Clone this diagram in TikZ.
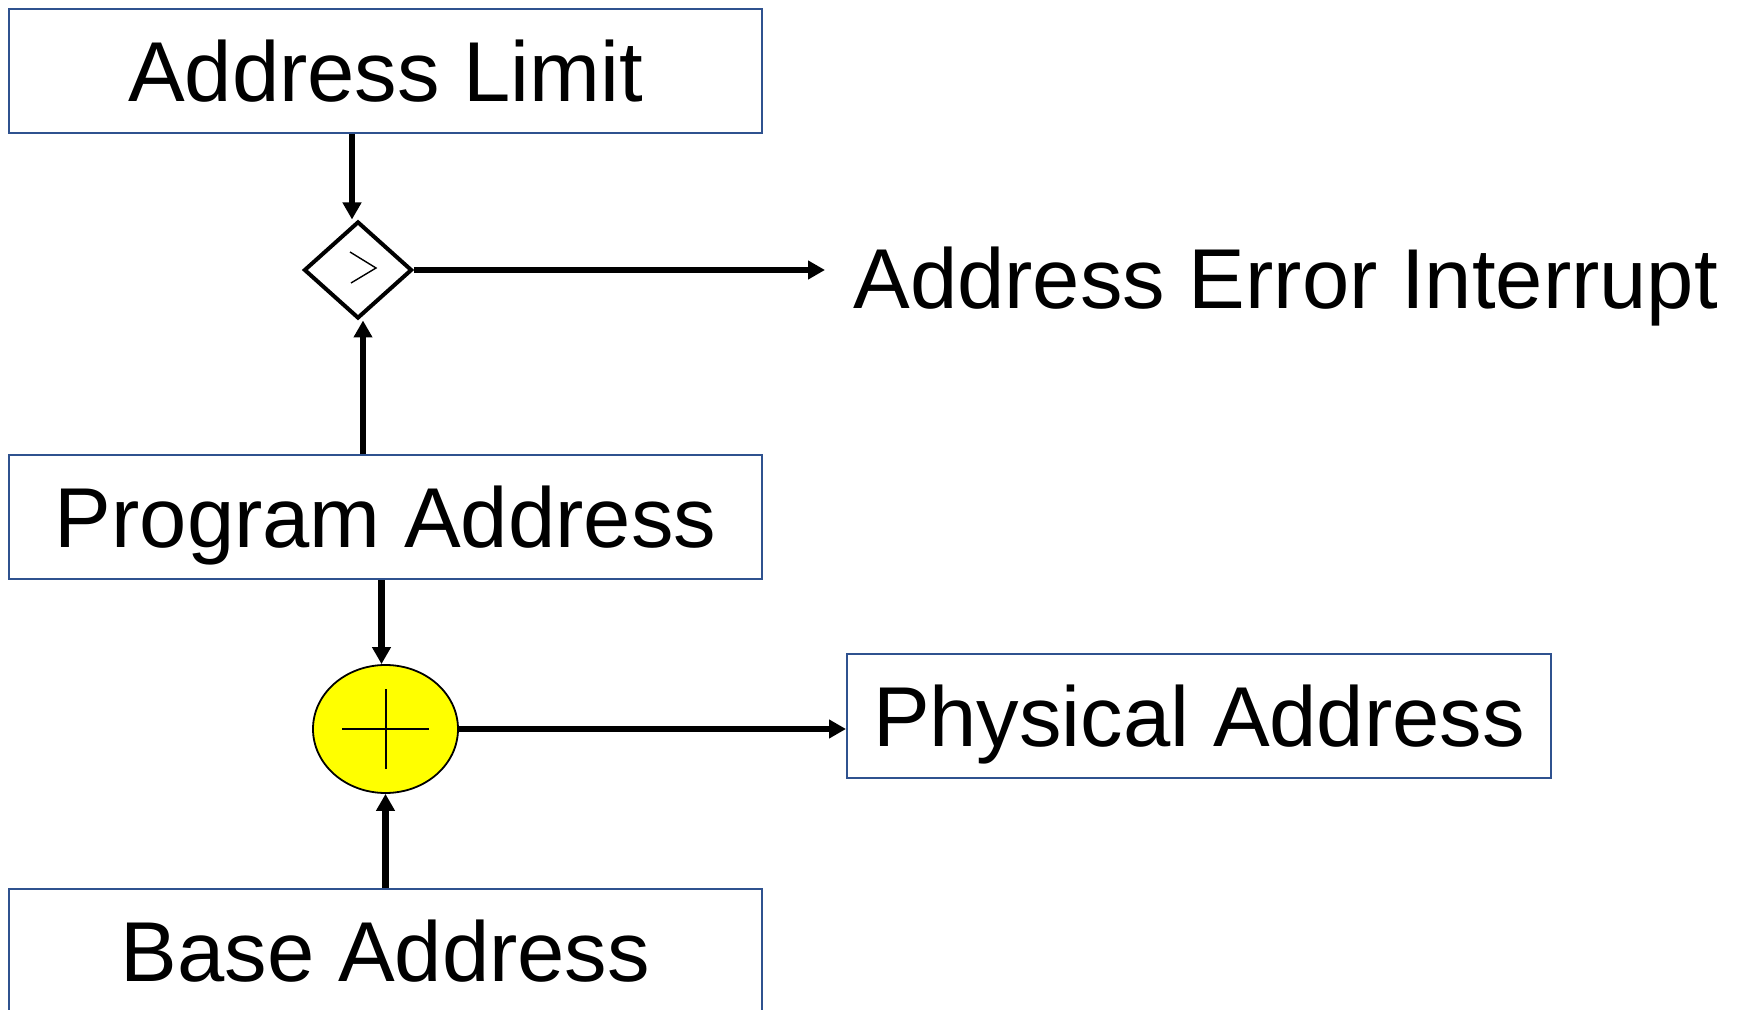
\documentclass[tikz,border=0pt]{standalone}
\usepackage{fontspec}
\setmainfont{Liberation Sans}
\usetikzlibrary{arrows.meta,shapes.geometric}
\definecolor{boxblue}{RGB}{47,82,143}
\definecolor{addyellow}{RGB}{255,255,0}
\begin{document}
\begin{tikzpicture}[x=0.5pt,y=-0.5pt,
  box/.style={draw=boxblue, line width=1pt, minimum width=376.5pt, minimum height=62pt,
    inner sep=0pt, font=\fontsize{42.5}{50}\selectfont, text height=30.4pt, text depth=0pt},
  conn/.style={line width=3.2pt, -{Triangle[length=8.5pt,width=9pt]}},
  cmpbox/.style={draw, shape=diamond, line width=2pt, minimum width=54pt, minimum height=48.5pt,
    aspect=1.11, inner sep=0pt},
  adder/.style={draw, shape=ellipse, fill=addyellow, line width=0.9pt, minimum width=72.5pt,
    minimum height=64pt, inner sep=0pt},
  crossline/.style={line width=1pt},
]
\useasboundingbox (0,0) rectangle (1742,1010);

\node[box] (limit) at (385.5,71) {Address Limit};
\node[box] (prog) at (385.5,517.5) {Program Address};
\node[box, minimum width=352pt] (phys) at (1199,716) {Physical Address};
\node[box] (base) at (385.5,951) {Base Address};

\node[cmpbox] (cmp) at (358,270) {};
\draw[line width=0.7pt] ([shift={(-8,-18)}]cmp.center) -- ([shift={(18,-2)}]cmp.center) -- ([shift={(-7,13)}]cmp.center);

\node[adder] (add) at (385.5,729) {};
\draw[crossline] ([xshift=-21.75pt]add.center) -- ([xshift=21.75pt]add.center);
\draw[crossline] ([yshift=-20pt]add.center) -- ([yshift=20pt]add.center);

\node[anchor=base west, inner sep=0pt, font=\fontsize{42.5}{50}\selectfont] (err) at (853,309) {Address Error Interrupt};

\draw[conn] ([xshift=-3pt]cmp.north |- limit.south) -- ([xshift=-3pt]cmp.north);
\draw[conn] ([xshift=2.5pt]cmp.south |- prog.north) -- ([xshift=2.5pt]cmp.south);
\draw[conn] (cmp.east) -- ([xshift=-14pt]err.west |- cmp.east);
\draw[conn] ([xshift=-2pt]add.north |- prog.south) -- ([xshift=-2pt]add.north);
\draw[conn] (add.south |- base.north) -- (add.south);
\draw[conn] (add.east) -- (add.east -| phys.west);
\end{tikzpicture}
\end{document}
